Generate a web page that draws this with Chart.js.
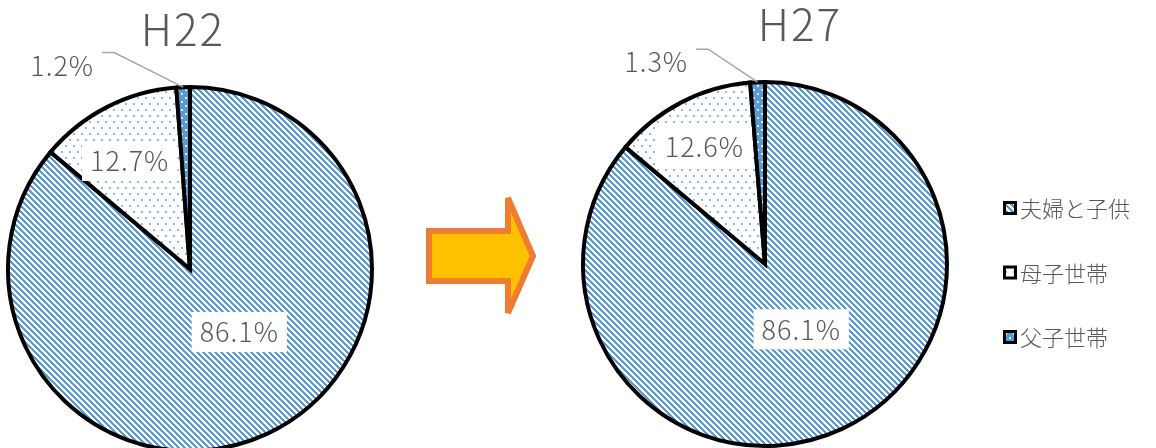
<!DOCTYPE html>
<html lang="ja">
<head>
<meta charset="UTF-8">
<title>世帯構成の推移</title>
<style>
  body {
    margin: 0;
    width: 1156px;
    height: 448px;
    overflow: hidden;
    background: #fff;
    position: relative;
  }
  #arrow { position: absolute; left: 0; top: 0; }
  #pieH22 { position: absolute; left: 0; top: 0; }
  #pieH27 { position: absolute; left: 560px; top: 0; }
</style>
</head>
<body>
<svg id="arrow" width="1156" height="448">
  <polygon points="429,231 508,231 508,198 533,256 508,313 508,281 429,281"
           fill="#FFC000" stroke="#ED7D31" stroke-width="6" stroke-linejoin="miter"/>
</svg>
<canvas id="pieH22" width="420" height="460"></canvas>
<canvas id="pieH27" width="596" height="460"></canvas>

<script src="https://cdn.jsdelivr.net/npm/chart.js"></script>
<script>
const categories = ['夫婦と子供', '母子世帯', '父子世帯'];
const valuesH22 = [86.1, 12.7, 1.2];
const valuesH27 = [86.1, 12.6, 1.3];

const FONT = '"Noto Sans CJK JP", "Noto Sans", sans-serif';
const GRAY = '#595959';

// small repeating tiles used as slice fills
function makePattern(w, h, bg, paint) {
    const c = document.createElement('canvas');
    c.width = w;
    c.height = h;
    const g = c.getContext('2d');
    g.fillStyle = bg;
    g.fillRect(0, 0, w, h);
    paint(g);
    return g.createPattern(c, 'repeat');
}

const stripes = makePattern(6, 6, '#ffffff', g => {
    g.fillStyle = '#5B9BD5';
    for (let y = 0; y < 6; y++) {
        for (let x = 0; x < 6; x++) {
            if (((x - y) % 6 + 6) % 6 < 3) g.fillRect(x, y, 1, 1);
        }
    }
});
const lightDots = makePattern(8, 12, '#ffffff', g => {
    g.fillStyle = '#8DB9E3';
    g.fillRect(1, 1, 2, 2);
    g.fillRect(5, 7, 2, 2);
});
const darkDots = makePattern(8, 8, '#5B9BD5', g => {
    g.fillStyle = '#DCEAF7';
    g.fillRect(1, 1, 2, 2);
    g.fillRect(5, 5, 2, 2);
});
const fills = [stripes, lightDots, darkDots];

// percentage labels, titles and the legend
const pieText = {
    id: 'pieText',
    afterDatasetsDraw(chart, args, opts) {
        const ctx = chart.ctx;
        const meta = chart.getDatasetMeta(0);
        const values = chart.data.datasets[0].data;
        ctx.save();
        ctx.textAlign = 'center';
        ctx.textBaseline = 'middle';

        ctx.fillStyle = GRAY;
        ctx.font = '300 44px ' + FONT;
        ctx.letterSpacing = '2px';
        ctx.fillText(opts.title, opts.titleX, opts.titleY);

        ctx.font = '300 27px ' + FONT;
        ctx.letterSpacing = '1px';
        meta.data.forEach((arc, i) => {
            const p = arc.getProps(['x', 'y', 'startAngle', 'endAngle', 'outerRadius'], true);
            const mid = (p.startAngle + p.endAngle) / 2;
            const place = opts.places[i];
            const a = mid + place.turn * Math.PI / 180;
            const lx = p.x + Math.cos(a) * p.outerRadius * place.dist;
            const ly = p.y + Math.sin(a) * p.outerRadius * place.dist;
            const text = values[i].toFixed(1) + '%';

            if (place.leader) {
                const ex = p.x + Math.cos(mid) * p.outerRadius;
                const ey = p.y + Math.sin(mid) * p.outerRadius;
                ctx.strokeStyle = '#A6A6A6';
                ctx.lineWidth = 1.5;
                ctx.beginPath();
                ctx.moveTo(ex, ey);
                ctx.lineTo(lx + 52, ly - 13);
                ctx.lineTo(lx + 40, ly - 13);
                ctx.stroke();
            } else {
                const w = ctx.measureText(text).width + 16;
                ctx.fillStyle = '#ffffff';
                ctx.fillRect(lx - w / 2, ly - 20, w, 40);
            }
            ctx.fillStyle = GRAY;
            ctx.fillText(text, lx, ly);
        });

        if (opts.legend) {
            const lg = opts.legend;
            ctx.textAlign = 'left';
            ctx.font = '300 22px ' + FONT;
            ctx.letterSpacing = '0px';
            chart.data.labels.forEach((name, i) => {
                const cy = lg.y + i * lg.step;
                ctx.fillStyle = '#000';
                ctx.fillRect(lg.x, cy - 7, 14, 14);
                ctx.fillStyle = fills[i];
                ctx.fillRect(lg.x + 3, cy - 4, 8, 8);
                ctx.fillStyle = GRAY;
                ctx.fillText(name, lg.x + 17, cy + 1);
            });
        }
        ctx.restore();
    }
};

function drawPie(id, values, padding, textOpts) {
    new Chart(document.getElementById(id), {
        type: 'pie',
        data: {
            labels: categories,
            datasets: [{
                data: values,
                backgroundColor: fills,
                borderColor: '#000',
                borderWidth: 4,
                borderJoinStyle: 'miter'
            }]
        },
        options: {
            responsive: false,
            animation: false,
            events: [],
            layout: { padding: padding },
            plugins: {
                legend: { display: false },
                tooltip: { enabled: false },
                pieText: textOpts
            }
        },
        plugins: [pieText]
    });
}

drawPie('pieH22', valuesH22,
    { left: 6, top: 85, right: 46, bottom: 7 },
    {
        title: 'H22', titleX: 183, titleY: 29,
        places: [
            { dist: 0.44, turn: -13 },
            { dist: 0.68, turn: -2 },
            { dist: 1.32, turn: -30, leader: true }
        ]
    });

drawPie('pieH27', valuesH27,
    { left: 21, top: 80, right: 207, bottom: 12 },
    {
        title: 'H27', titleX: 240, titleY: 24,
        places: [
            { dist: 0.41, turn: -4 },
            { dist: 0.725, turn: 0 },
            { dist: 1.26, turn: -26, leader: true }
        ],
        legend: { x: 443, y: 208, step: 64.5 }
    });
</script>
</body>
</html>
